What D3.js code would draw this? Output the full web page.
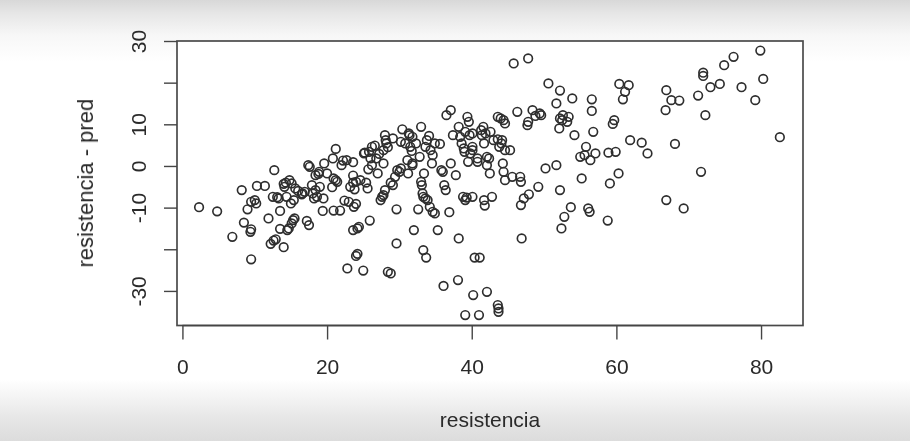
<!DOCTYPE html>
<html><head><meta charset="utf-8">
<script src="https://cdn.jsdelivr.net/npm/d3@7"></script>
<style>html,body{margin:0;padding:0;background:#fff}svg{display:block}</style>
</head><body>
<script>
// resistencia (x) and residual resistencia - pred (y)
const resistencia = [
 2.3,4.8,6.9,8.2,8.5,9.5,9.4,9.5,9.0,9.5,
 10.0,10.3,10.2,11.4,11.9,12.2,12.6,12.9,12.7,12.5,
 13.1,13.3,13.5,13.5,14.0,14.0,14.1,14.3,14.5,14.7,
 14.8,15.0,15.1,15.4,15.3,15.5,15.1,15.6,16.0,16.5,
 16.9,16.6,17.4,17.6,17.2,17.5,17.9,18.0,18.2,18.4,
 18.6,19.0,18.8,18.4,18.9,19.4,19.6,20.0,20.7,20.8,
 21.2,21.2,21.4,20.9,20.9,21.8,22.0,22.2,22.7,22.4,
 22.8,23.0,23.2,23.6,23.6,23.6,23.6,24.4,23.8,24.0,
 24.0,23.7,24.2,24.2,24.6,24.0,25.0,25.2,25.4,25.6,
 25.7,25.9,26.0,26.2,26.6,26.2,25.8,25.1,26.8,27.0,
 27.2,27.4,27.6,27.8,27.8,28.0,28.0,28.2,28.1,28.4,
 27.8,28.4,28.8,28.8,29.1,29.1,29.4,29.6,29.6,30.0,
 29.7,30.2,30.4,30.2,30.8,31.2,31.4,31.3,31.8,31.5,
 31.7,32.0,31.8,31.1,31.8,32.3,32.6,32.8,33.0,33.0,
 33.1,33.2,33.3,33.3,33.7,33.4,33.6,33.8,33.9,34.1,
 34.2,34.6,34.9,34.6,34.9,34.5,34.3,35.3,35.6,35.8,
 36.0,36.2,36.4,36.1,36.5,37.1,36.9,37.1,37.4,37.8,
 38.1,38.2,38.2,38.4,38.6,38.8,39.0,38.9,39.1,39.3,
 39.1,39.4,39.6,39.5,39.7,39.1,39.8,40.1,40.1,40.1,
 40.1,40.2,40.4,40.8,40.8,41.0,41.1,41.3,41.4,41.6,
 41.9,41.7,41.8,41.7,42.1,42.6,42.5,42.1,42.4,42.1,
 42.8,43.0,43.6,43.7,43.7,43.6,43.8,43.6,44.0,44.4,
 44.6,44.3,44.6,44.4,44.1,44.6,44.2,45.3,45.6,45.8,
 46.3,46.7,46.8,46.8,46.9,47.2,47.9,47.8,47.7,47.8,
 48.4,48.8,49.2,49.4,49.6,50.2,50.6,51.7,51.7,52.1,
 52.2,52.2,52.2,52.4,52.5,52.6,52.8,53.2,53.4,53.7,
 53.9,54.2,55.0,55.2,55.6,55.8,56.1,56.3,56.4,56.6,
 56.6,56.8,57.1,58.8,58.9,59.1,59.5,59.7,59.9,60.3,
 60.4,60.9,61.2,61.7,61.9,63.5,64.3,66.9,66.8,66.9,
 67.6,68.1,68.7,69.3,71.3,71.7,72.0,72.0,72.3,73.0,
 74.3,74.9,76.2,77.3,79.2,79.9,80.3,82.6,33.6,14.4,
 19.5
];
const residuo = [
 -9.9,-10.9,-17.0,-5.8,-13.6,-15.2,-15.8,-22.4,-10.4,-8.6,
 -8.2,-4.8,-9.0,-4.8,-12.6,-18.7,-17.9,-17.6,-1.0,-7.4,
 -7.5,-7.8,-10.8,-15.1,-19.5,-4.3,-5.0,-4.0,-15.4,-15.0,
 -3.4,-9.0,-4.2,-8.2,-13.0,-12.6,-13.8,-5.4,-6.0,-6.8,
 -6.2,-6.6,0.2,-0.2,-13.2,-14.2,-4.6,-6.6,-7.8,-5.8,
 -7.4,-5.0,-1.9,-2.2,-1.4,-10.8,0.6,-1.8,-5.1,1.8,
 4.1,-3.4,-3.8,-3.0,-10.7,-10.7,0.2,1.3,1.4,-8.3,
 -24.6,-8.6,-5.0,-4.0,0.9,-2.3,-15.4,-14.6,-5.6,-21.6,
 -9.1,-9.8,-15.0,-21.1,-3.4,-3.8,-25.1,3.2,-4.0,-5.4,
 -0.8,-13.1,1.8,4.6,4.9,0.2,3.4,3.0,1.8,-1.8,
 2.9,-8.2,-7.4,-7.0,0.6,7.4,-5.8,5.4,6.2,4.5,
 3.8,-25.4,-25.8,-4.0,-4.6,6.6,-2.6,-10.4,-18.6,-1.4,
 -1.0,-0.6,8.8,5.8,5.4,-1.8,7.4,7.8,7.0,4.6,
 3.6,-15.4,0.6,1.4,0.2,5.4,-10.4,2.2,9.4,-3.8,
 -4.6,-6.6,-7.4,-20.2,-22.0,-1.8,4.6,6.2,-8.2,7.2,
 -9.8,-11.0,-11.4,2.6,5.4,0.6,3.8,-15.4,5.3,-1.0,
 -1.4,-4.6,-5.8,-28.8,12.2,13.4,-11.1,0.6,7.4,-2.2,
 -27.4,-17.4,9.4,7.0,5.4,-7.4,3.4,4.2,-35.8,-7.6,
 -8.2,11.8,10.6,1.0,7.4,8.2,3.0,4.6,3.8,-7.4,
 7.8,-31.0,-22.0,1.0,1.8,-35.8,-22.0,8.6,7.4,9.4,
 7.8,5.4,-9.5,-8.2,-30.2,8.2,-1.8,2.2,1.8,0.2,
 -7.4,6.2,-33.4,-34.2,-35.0,11.8,4.6,6.4,11.4,11.0,
 10.2,0.6,-3.4,-1.4,5.4,3.8,6.2,3.8,-2.6,24.6,
 13.0,-2.6,-3.8,-9.4,-17.4,-7.8,-6.8,25.8,9.8,10.6,
 13.4,12.0,-5.0,12.6,12.2,-0.6,19.8,15.0,0.2,9.0,
 18.1,11.4,-5.8,-15.0,11.0,12.2,-12.2,10.6,11.8,-9.9,
 16.2,7.4,2.2,-3.0,2.6,4.6,-10.2,-11.0,1.4,16.0,
 13.2,8.2,3.0,-13.1,3.2,-4.2,10.1,11.0,3.4,-1.8,
 19.7,16.0,17.8,19.4,6.2,5.6,3.0,18.2,13.4,-8.2,
 15.8,5.3,15.7,-10.2,16.9,-1.4,22.4,21.6,12.2,18.9,
 19.7,24.2,26.2,18.9,15.8,27.7,20.9,6.9,-7.8,-7.4,
 -7.8
];
const xTicks = [0, 20, 40, 60, 80];
const yTicks = [-30, -20, -10, 0, 10, 20, 30];
const yTickLabels = ["-30", "", "-10", "0", "10", "", "30"];
const xTitle = "resistencia";
const yTitle = "resistencia - pred";

const W = 910, H = 441;
const box = {l: 177, r: 803, t: 41, b: 325.5};
const font = "'Liberation Sans', Arial, Helvetica, sans-serif";
const ink = "#2a2a2a";

const svg = d3.select("body").append("svg").attr("width", W).attr("height", H);
const defs = svg.append("defs");
const g0 = defs.append("linearGradient").attr("id", "bg").attr("x1", 0).attr("y1", 0).attr("x2", 0).attr("y2", 1);
[[0, "#d8d8d8"], [0.03, "#e6e6e6"], [0.08, "#f7f7f7"], [0.14, "#ffffff"], [0.86, "#ffffff"], [0.9, "#f4f4f4"], [0.95, "#e6e6e6"], [1, "#dcdcdc"]]
  .forEach(([o, c]) => g0.append("stop").attr("offset", o).attr("stop-color", c));
defs.append("filter").attr("id", "soft").append("feGaussianBlur").attr("stdDeviation", 0.4);

svg.append("rect").attr("width", W).attr("height", H).attr("fill", "url(#bg)");

const x = d3.scaleLinear().domain([-0.75, 85.8]).range([box.l, box.r]);
const y = d3.scaleLinear().domain([-38.3, 30.0]).range([box.b, box.t]);

const root = svg.append("g").attr("filter", "url(#soft)");

root.append("rect").attr("x", box.l).attr("y", box.t)
  .attr("width", box.r - box.l).attr("height", box.b - box.t)
  .attr("fill", "#fff").attr("stroke", "#4a4a4a").attr("stroke-width", 1.7);

// points
root.append("g").selectAll("circle").data(d3.zip(resistencia, residuo)).join("circle")
  .attr("cx", d => x(d[0])).attr("cy", d => y(d[1])).attr("r", 4.3)
  .attr("fill", "none").attr("stroke", "#2e2e2e").attr("stroke-width", 1.65);

// x axis
const gx = root.append("g").attr("transform", `translate(0,${box.b})`)
  .call(d3.axisBottom(x).tickValues(xTicks).tickSize(14).tickPadding(20).tickSizeOuter(0).tickFormat(d3.format("d")));
gx.select(".domain").remove();
root.append("line").attr("x1", x(xTicks[0])).attr("x2", x(xTicks[xTicks.length - 1]))
  .attr("y1", box.b).attr("y2", box.b).attr("stroke", "#444").attr("stroke-width", 1.5);
gx.selectAll(".tick line").attr("stroke", "#444").attr("stroke-width", 1.4);
gx.selectAll(".tick text").attr("font-family", font).attr("font-size", 21).attr("fill", ink);

// y axis
const gy = root.append("g").attr("transform", `translate(${box.l},0)`)
  .call(d3.axisLeft(y).tickValues(yTicks).tickSize(13).tickSizeOuter(0).tickFormat((d, i) => yTickLabels[i]));
gy.select(".domain").remove();
gy.selectAll(".tick line").attr("stroke", "#444").attr("stroke-width", 1.4);
gy.selectAll(".tick text")
  .attr("x", null).attr("dy", null).attr("text-anchor", "middle")
  .attr("transform", "translate(-31,0) rotate(-90)")
  .attr("font-family", font).attr("font-size", 21).attr("fill", ink);

// titles
root.append("text").attr("x", (box.l + box.r) / 2).attr("y", 427)
  .attr("text-anchor", "middle").attr("font-family", font).attr("font-size", 21).attr("fill", ink)
  .text(xTitle);
root.append("text").attr("transform", `translate(93,${(box.t + box.b) / 2}) rotate(-90)`)
  .attr("text-anchor", "middle").attr("font-family", font).attr("font-size", 22).attr("fill", ink)
  .text(yTitle);
</script>
</body></html>
